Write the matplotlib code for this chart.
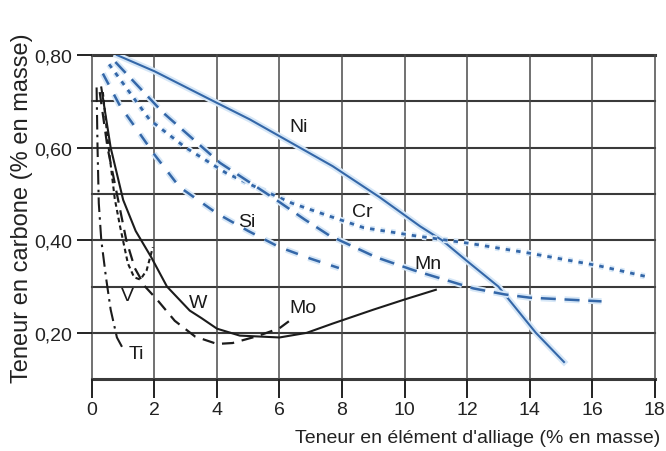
import matplotlib
matplotlib.use("Agg")
import matplotlib.pyplot as plt
import matplotlib.patheffects as pe

# curve data (x = % alloying element, y = % carbon)
ni_x = [0.8, 2.0, 3.9, 5.05, 6.65, 7.7, 9.2, 10.5, 11.2, 12.0, 13.0, 14.2, 15.1]
ni_y = [0.80, 0.765, 0.70, 0.661, 0.60, 0.56, 0.493, 0.43, 0.40, 0.355, 0.30, 0.20, 0.137]

cr_x = [0.55, 1.85, 3.0, 4.3, 5.4, 6.4, 7.6, 8.7, 10.3, 12.1, 14.0, 16.2, 17.7]
cr_y = [0.78, 0.66, 0.60, 0.545, 0.51, 0.48, 0.452, 0.427, 0.41, 0.393, 0.372, 0.345, 0.322]

mn_x = [0.75, 2.27, 4.1, 5.9, 6.8, 7.6, 9.1, 10.3, 12.2, 13.2, 14.0, 16.3]
mn_y = [0.785, 0.676, 0.567, 0.487, 0.445, 0.41, 0.363, 0.335, 0.296, 0.283, 0.276, 0.268]

si_x = [0.35, 0.9, 1.43, 2.0, 2.8, 4.0, 5.0, 6.0, 7.0, 7.9]
si_y = [0.76, 0.69, 0.64, 0.585, 0.515, 0.458, 0.42, 0.385, 0.36, 0.34]

ti_x = [0.15, 0.18, 0.22, 0.3, 0.45, 0.6, 0.8, 1.0]
ti_y = [0.73, 0.60, 0.48, 0.40, 0.32, 0.25, 0.19, 0.165]

v_x = [0.35, 0.5, 0.73, 0.9, 1.15, 1.35, 1.55, 1.75, 1.95]
v_y = [0.72, 0.62, 0.49, 0.43, 0.35, 0.32, 0.315, 0.335, 0.385]

mo_x = [0.25, 0.5, 0.83, 1.1, 1.37, 1.7, 2.08, 2.65, 3.3, 4.0, 4.5, 5.3, 6.0, 6.3]
mo_y = [0.72, 0.60, 0.49, 0.40, 0.34, 0.30, 0.272, 0.226, 0.192, 0.176, 0.178, 0.193, 0.21, 0.225]

w_x = [0.3, 0.6, 1.0, 1.4, 1.9, 2.4, 3.13, 3.5, 4.0, 4.73, 6.0, 6.87, 7.7, 9.0, 10.0, 11.0]
w_y = [0.73, 0.60, 0.487, 0.42, 0.363, 0.30, 0.248, 0.232, 0.209, 0.194, 0.19, 0.20, 0.22, 0.25, 0.272, 0.293]

x_ticks = [0, 2, 4, 6, 8, 10, 12, 14, 16, 18]
y_ticks = [0.20, 0.40, 0.60, 0.80]
y_grid = [0.1, 0.2, 0.3, 0.4, 0.5, 0.6, 0.7, 0.8]

sans = ["Liberation Sans", "DejaVu Sans"]

fig = plt.figure(figsize=(6.66, 4.52), dpi=100)
ax = fig.add_axes([0.138, 0.159, 0.845, 0.717])
ax.set_xlim(0, 18)
ax.set_ylim(0.1, 0.8)
for s in ax.spines.values():
    s.set_visible(False)

for yy in y_grid:
    lw = 2.2 if yy in (0.1, 0.8) else 1.5
    ax.axhline(yy, color="#3a3a3a", lw=lw, zorder=1, clip_on=False)
for xx in x_ticks:
    ax.axvline(xx, color="#4a4a4a", lw=1.1, zorder=1, clip_on=False)

blue = "#3467a8"
halo = [pe.withStroke(linewidth=4.5, foreground="#d6e7f7")]
ax.plot(ni_x, ni_y, color=blue, lw=1.5, path_effects=halo, zorder=3)
ax.plot(cr_x, cr_y, color=blue, lw=2.0, dashes=(1.6, 2.2), path_effects=halo, zorder=3)
ax.plot(mn_x, mn_y, color=blue, lw=1.8, dashes=(6, 3.5), path_effects=halo, zorder=3)
ax.plot(si_x, si_y, color=blue, lw=1.8, dashes=(5, 4.5), path_effects=halo, zorder=3)

black = "#1c1c1c"
ax.plot(ti_x, ti_y, color=black, lw=1.5, dashes=(7, 2.5, 1.2, 2.5), zorder=4)
ax.plot(v_x, v_y, color=black, lw=1.5, dashes=(2.2, 1.6), zorder=4)
ax.plot(mo_x, mo_y, color=black, lw=1.6, dashes=(5.5, 3.5), zorder=4)
ax.plot(w_x, w_y, color=black, lw=1.5, zorder=4)

lab = dict(fontsize=14, family=sans, color="#1a1a1a", ha="center", va="center", zorder=5)
ax.text(6.6, 0.645, "Ni", **lab)
ax.text(8.65, 0.462, "Cr", **lab)
ax.text(10.75, 0.35, "Mn", **lab)
ax.text(4.95, 0.44, "Si", **lab)
ax.text(3.4, 0.265, "W", **lab)
ax.text(6.75, 0.255, "Mo", **lab)
ax.text(1.12, 0.28, "V", **lab)
ax.text(1.42, 0.155, "Ti", **lab)

ax.set_xticks(x_ticks)
ax.set_xticklabels([str(t) for t in x_ticks], family=sans, fontsize=14)
ax.set_yticks(y_ticks)
ax.set_yticklabels([f"{t:.2f}".replace(".", ",") for t in y_ticks], family=sans, fontsize=14)
ax.tick_params(axis="x", direction="out", length=14, width=1.4, pad=2, colors="#222222")
ax.tick_params(axis="y", direction="out", length=11, width=1.4, pad=3, colors="#222222")

fig.text(0.991, 0.030, "Teneur en élément d'alliage (% en masse)", ha="right", va="center",
         fontsize=14, family=sans, color="#222222")
fig.text(0.033, 0.54, "Teneur en carbone (% en masse)", rotation=90, ha="center", va="center",
         fontsize=17, family=sans, color="#222222")

fig.savefig("out.png", dpi=100)
